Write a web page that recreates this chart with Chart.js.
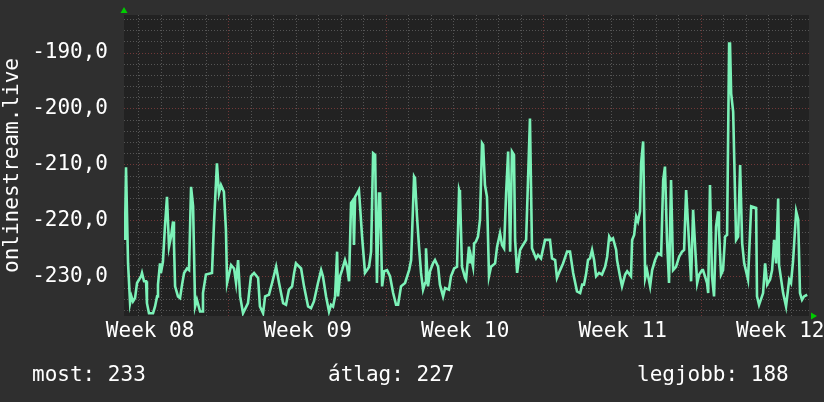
<!DOCTYPE html>
<html lang="hu">
<head>
  <meta charset="UTF-8">
  <title>onlinestream.live</title>
  <script src="https://cdn.jsdelivr.net/npm/chart.js"></script>
  <style>
    html, body { margin: 0; padding: 0; background: #2f2f2f; }
    .wrap { position: relative; width: 824px; height: 402px; overflow: hidden; }
    .stat {
      position: absolute; top: 364px;
      font: 21px "DejaVu Sans Mono", monospace; line-height: 21px;
      color: #ffffff; white-space: pre;
    }
  </style>
</head>
<body>
  <div class="wrap">
    <canvas id="myChart" width="824" height="402"></canvas>
    <div class="stat" id="stat-0" style="left: 32px;"></div>
    <div class="stat" id="stat-1" style="left: 328px;"></div>
    <div class="stat" id="stat-2" style="left: 637px;"></div>
  </div>
  <script>
    // time in days from the left edge of the graph
    const days = [
      0.04, 0.09, 0.13, 0.18, 0.27, 0.33, 0.40, 0.49, 0.58, 0.76,
      0.80, 0.89, 0.98, 1.02, 1.11, 1.29, 1.38, 1.47, 1.51, 1.60,
      1.64, 1.73, 1.82, 1.91, 2.00, 2.09, 2.18, 2.22, 2.27, 2.40,
      2.49, 2.58, 2.67, 2.80, 2.89, 2.98, 3.07, 3.16, 3.24, 3.38,
      3.47, 3.51, 3.64, 3.91, 4.00, 4.13, 4.22, 4.31, 4.44, 4.53,
      4.58, 4.76, 4.89, 4.98, 5.07, 5.16, 5.29, 5.51, 5.64, 5.78,
      5.96, 6.04, 6.18, 6.27, 6.44, 6.58, 6.76, 6.89, 7.07, 7.20,
      7.33, 7.47, 7.56, 7.64, 7.87, 8.00, 8.18, 8.31, 8.44, 8.62,
      8.76, 8.84, 8.98, 9.11, 9.20, 9.29, 9.38, 9.47, 9.51, 9.60,
      9.69, 9.82, 9.91, 10.00, 10.09, 10.18, 10.22, 10.27, 10.36, 10.44,
      10.49, 10.58, 10.71, 10.80, 10.89, 10.98, 11.07, 11.16, 11.24, 11.33,
      11.38, 11.47, 11.56, 11.69, 11.82, 11.96, 12.09, 12.18, 12.31, 12.49,
      12.67, 12.76, 12.89, 12.93, 13.02, 13.11, 13.20, 13.29, 13.38, 13.42,
      13.51, 13.60, 13.73, 13.82, 13.96, 14.04, 14.18, 14.27, 14.44, 14.53,
      14.67, 14.80, 14.89, 14.93, 15.02, 15.16, 15.20, 15.33, 15.38, 15.42,
      15.51, 15.56, 15.64, 15.73, 15.82, 15.91, 15.96, 16.04, 16.13, 16.22,
      16.31, 16.49, 16.58, 16.71, 16.80, 16.89, 16.98, 17.07, 17.16, 17.24,
      17.33, 17.38, 17.47, 17.60, 17.73, 17.87, 18.04, 18.13, 18.31, 18.40,
      18.53, 18.71, 18.93, 19.02, 19.16, 19.24, 19.38, 19.51, 19.69, 19.82,
      19.96, 20.13, 20.27, 20.36, 20.44, 20.53, 20.62, 20.71, 20.80, 20.89,
      20.98, 21.11, 21.24, 21.38, 21.47, 21.56, 21.64, 21.73, 21.87, 21.91,
      22.04, 22.13, 22.27, 22.36, 22.53, 22.58, 22.67, 22.76, 22.84, 22.93,
      22.98, 23.07, 23.16, 23.24, 23.38, 23.47, 23.60, 23.73, 23.87, 23.96,
      24.04, 24.13, 24.22, 24.31, 24.40, 24.53, 24.67, 24.80, 24.89, 24.98,
      25.07, 25.20, 25.29, 25.47, 25.56, 25.69, 25.73, 25.91, 25.96, 26.04,
      26.13, 26.22, 26.31, 26.40, 26.44, 26.53, 26.62, 26.71, 26.80, 26.89,
      26.93, 26.98, 27.07, 27.20, 27.29, 27.38, 27.47, 27.56, 27.73, 27.87,
      28.09, 28.13, 28.22, 28.40, 28.49, 28.58, 28.71, 28.80, 28.89, 28.98,
      29.07, 29.11, 29.29, 29.42, 29.56, 29.64, 29.73, 29.87, 29.96, 30.04,
      30.13, 30.22, 30.36
    ];

    const values = [
      -223.4, -210.4, -210.4, -227.6, -234.7, -233.5, -234.4, -233.8, -231.1, -229.9,
      -229.3, -230.8, -230.8, -234.7, -236.5, -236.5, -235.3, -233.5, -231.4, -227.6,
      -229.3, -227.3, -221.0, -215.7, -224.6, -222.8, -220.1, -224.0, -231.7, -233.5,
      -233.8, -231.4, -229.3, -228.5, -228.8, -213.9, -217.4, -235.3, -234.1, -236.2,
      -236.2, -232.9, -229.6, -229.3, -220.4, -209.7, -215.1, -213.6, -214.8, -221.6,
      -231.1, -227.9, -228.5, -231.1, -227.0, -233.5, -236.5, -234.7, -229.9, -229.3,
      -230.2, -235.3, -236.5, -233.5, -233.2, -231.1, -228.2, -231.1, -234.7, -235.0,
      -232.3, -231.7, -229.3, -227.6, -228.5, -231.7, -235.3, -235.6, -234.4, -231.1,
      -228.8, -229.9, -233.5, -236.2, -235.0, -235.3, -233.5, -225.5, -233.5, -229.9,
      -228.8, -227.0, -228.2, -230.8, -216.8, -216.3, -224.3, -215.7, -215.1, -214.5,
      -217.4, -222.8, -229.3, -228.8, -228.2, -225.5, -207.9, -208.2, -231.1, -215.1,
      -215.1, -231.7, -229.0, -228.8, -229.9, -232.9, -235.0, -235.0, -231.7, -231.1,
      -228.8, -227.0, -212.1, -212.4, -219.2, -224.6, -229.3, -232.3, -231.1, -224.9,
      -231.7, -229.0, -227.6, -227.0, -228.2, -231.4, -233.5, -232.0, -232.3, -229.9,
      -228.5, -228.2, -214.5, -215.1, -228.2, -230.2, -230.5, -224.6, -227.6, -226.4,
      -228.2, -224.0, -223.7, -222.8, -219.8, -206.1, -206.4, -213.6, -215.7, -229.9,
      -228.2, -227.6, -224.6, -222.2, -224.3, -224.9, -215.1, -207.6, -225.5, -207.6,
      -208.2, -223.4, -229.3, -225.2, -224.3, -223.4, -201.7, -224.9, -226.7, -226.1,
      -226.7, -223.4, -223.4, -226.7, -227.0, -230.2, -228.8, -227.6, -225.5, -225.5,
      -229.3, -232.6, -232.9, -231.4, -231.4, -229.6, -227.0, -226.7, -225.2, -227.0,
      -229.9, -229.3, -229.6, -228.2, -226.4, -222.8, -223.4, -223.1, -225.2, -227.0,
      -229.9, -231.7, -229.6, -229.0, -229.9, -223.4, -222.5, -219.2, -220.1, -218.3,
      -209.7, -205.8, -230.2, -228.8, -231.7, -228.8, -227.0, -225.8, -226.1, -212.7,
      -210.3, -223.4, -231.1, -212.7, -228.8, -228.2, -226.4, -225.5, -225.2, -214.5,
      -221.0, -230.8, -218.0, -231.1, -229.6, -228.8, -228.8, -231.1, -232.9, -213.6,
      -229.9, -233.5, -221.0, -218.3, -221.6, -229.6, -228.8, -222.8, -222.5, -188.3,
      -188.3, -197.2, -200.5, -223.4, -222.8, -210.0, -224.0, -227.6, -230.5, -217.4,
      -217.7, -233.5, -235.0, -232.9, -227.6, -231.4, -230.5, -228.8, -223.4, -227.6,
      -216.0, -227.9, -232.9, -235.3, -230.5, -231.1, -227.3, -218.3, -219.8, -232.9,
      -234.1, -233.5, -233.2
    ];

    const weekLabels = ['Week 08', 'Week 09', 'Week 10', 'Week 11', 'Week 12'];
    const weekLabelDays = [1.16, 8.16, 15.16, 22.16, 29.16];
    const weekStartDays = [4.66, 11.66, 18.66, 25.66];
    const yLabelValues = [-230, -220, -210, -200, -190];
    const statTexts = ['most: 233', '\u00e1tlag: 227', 'legjobb: 188'];

    const X_MAX = 30.44;
    const Y_MIN = -237;
    const Y_MAX = -183.2;

    const MINOR = '#555555';
    const MAJOR = '#703838';
    const monoFont = { family: '"DejaVu Sans Mono", monospace', size: 21 };

    // one grid line per day, the first one 0.66 day after the left edge
    const dayLines = [];
    for (let d = 0.66; d < X_MAX; d += 1) dayLines.push(Math.round(d * 100) / 100);

    const yLines = [];
    for (let v = -236; v <= -184; v += 2) yLines.push(v);

    statTexts.forEach((t, i) => {
      document.getElementById('stat-' + i).textContent = t;
    });

    const rrdLook = {
      id: 'rrdLook',
      beforeDraw(chart) {
        const { ctx, chartArea: a } = chart;
        ctx.save();
        ctx.fillStyle = '#2f2f2f';
        ctx.fillRect(0, 0, chart.width, chart.height);
        ctx.fillStyle = '#222222';
        ctx.fillRect(a.left, a.top, a.right - a.left, a.bottom - a.top);
        ctx.restore();
      },
      afterDraw(chart) {
        const { ctx, chartArea: a } = chart;
        ctx.save();
        ctx.fillStyle = '#00cc00';
        // arrow on top of the y axis
        ctx.beginPath();
        ctx.moveTo(a.left - 3.5, a.top - 2);
        ctx.lineTo(a.left + 3.5, a.top - 2);
        ctx.lineTo(a.left, a.top - 8);
        ctx.closePath();
        ctx.fill();
        // arrow at the end of the x axis
        ctx.beginPath();
        ctx.moveTo(a.right + 2, a.bottom - 3.5);
        ctx.lineTo(a.right + 2, a.bottom + 3.5);
        ctx.lineTo(a.right + 8, a.bottom);
        ctx.closePath();
        ctx.fill();
        ctx.restore();
      }
    };

    const ctx = document.getElementById('myChart');

    const myChart = new Chart(ctx, {
      type: 'line',
      data: {
        datasets: [{
          label: 'onlinestream.live',
          data: days.map((d, i) => ({ x: d, y: values[i] })),
          borderColor: '#7cf2b8',
          borderWidth: 2.6,
          pointRadius: 0,
          tension: 0,
          fill: false,
          xAxisID: 'x',
          yAxisID: 'y'
        }]
      },
      options: {
        responsive: false,
        animation: false,
        devicePixelRatio: 1,
        layout: { padding: { left: 0, right: 15, top: 15, bottom: 0 } },
        plugins: {
          legend: { display: false },
          tooltip: { enabled: false }
        },
        scales: {
          x: {
            type: 'linear',
            position: 'bottom',
            weight: 0,
            min: 0,
            max: X_MAX,
            afterBuildTicks: (s) => { s.ticks = dayLines.map(v => ({ value: v })); },
            ticks: { display: false },
            grid: {
              drawTicks: false,
              lineWidth: 1,
              color: (c) => weekStartDays.some(w => Math.abs(w - c.tick.value) < 0.01) ? MAJOR : MINOR
            },
            border: { display: false, dash: [1, 2] },
            afterFit: (s) => { s.height = 0; s.paddingLeft = 0; s.paddingRight = 0; }
          },
          x2: {
            type: 'linear',
            position: 'bottom',
            weight: 1,
            min: 0,
            max: X_MAX,
            afterBuildTicks: (s) => { s.ticks = weekLabelDays.map(v => ({ value: v })); },
            ticks: {
              autoSkip: false,
              maxRotation: 0,
              color: '#ffffff',
              font: monoFont,
              padding: 3,
              callback: (v, i) => weekLabels[i]
            },
            grid: { display: false, drawTicks: false },
            border: { display: false },
            afterFit: (s) => { s.height = 86; s.paddingLeft = 0; s.paddingRight = 0; }
          },
          y: {
            min: Y_MIN,
            max: Y_MAX,
            afterBuildTicks: (s) => { s.ticks = yLines.map(v => ({ value: v })); },
            ticks: {
              autoSkip: false,
              color: '#ffffff',
              font: monoFont,
              padding: 16,
              callback: (v) => yLabelValues.includes(v) ? v.toFixed(1).replace('.', ',') : ''
            },
            grid: {
              drawTicks: false,
              lineWidth: 1,
              color: (c) => yLabelValues.includes(c.tick.value) ? MAJOR : MINOR
            },
            border: { display: false, dash: [1, 2] },
            title: {
              display: true,
              text: 'onlinestream.live',
              color: '#ffffff',
              font: monoFont,
              padding: 0
            },
            afterFit: (s) => { s.width = 124; s.paddingTop = 0; s.paddingBottom = 0; }
          }
        }
      },
      plugins: [rrdLook]
    });
  </script>
</body>
</html>
